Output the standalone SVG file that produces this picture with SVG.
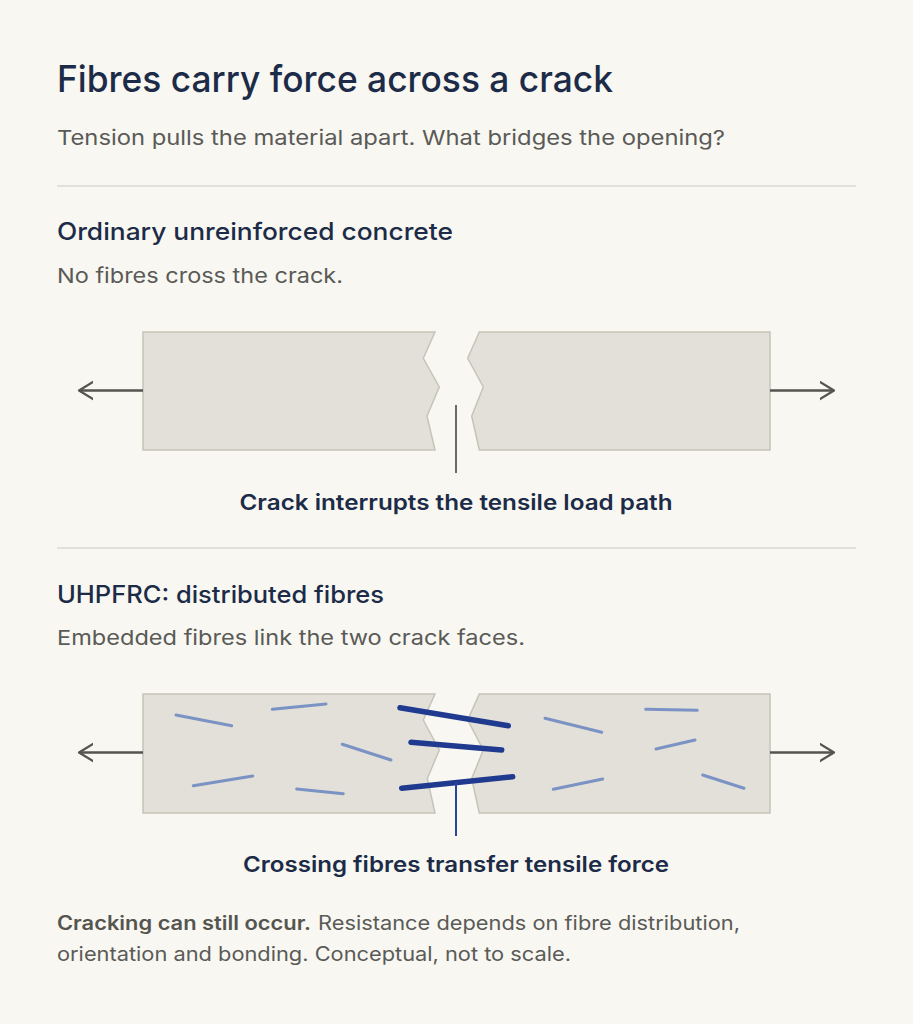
<svg xmlns="http://www.w3.org/2000/svg" width="913" height="1024" viewBox="0 0 913 1024">
  <defs>
    <marker id="ah" viewBox="0 0 20 20" refX="14" refY="10" markerWidth="20" markerHeight="20" markerUnits="userSpaceOnUse" orient="auto">
      <path d="M0,1.5 L14,10 L0,18.5" fill="none" stroke="#55544f" stroke-width="2.2" stroke-linecap="round" stroke-linejoin="round"/>
    </marker>
    <style>
      .title{font-family:Inter,"Liberation Sans",sans-serif;font-size:37px;font-weight:500;fill:#1c2b47}
      .sub{font-family:Inter,"Liberation Sans",sans-serif;font-size:20.5px;font-weight:400;fill:#5a5a57}
      .head{font-family:Inter,"Liberation Sans",sans-serif;font-size:24px;font-weight:500;fill:#1c2b47}
      .lab{font-family:Inter,"Liberation Sans",sans-serif;font-size:21.5px;font-weight:600;fill:#1c2b47}
      .foot{font-family:Inter,"Liberation Sans",sans-serif;font-size:19.5px;font-weight:400;fill:#5a5a57}
      .footb{font-family:Inter,"Liberation Sans",sans-serif;font-size:19.5px;font-weight:600;fill:#55554f}
      .block{fill:#e2e0d8;stroke:#c6c4b8;stroke-width:1.5;stroke-linejoin:miter}
      .div{stroke:#dddbd2;stroke-width:1.5}
      .force{stroke:#55544f;stroke-width:2.5;fill:none}
      .fib{stroke:#7b93c4;stroke-width:3;stroke-linecap:round}
      .bridge{stroke:#1f3a8f;stroke-width:5.5;stroke-linecap:round}
    </style>
  </defs>
  <rect width="913" height="1024" fill="#f8f7f2"/>

  <g id="header">
    <text class="title" x="57" y="92" textLength="556" lengthAdjust="spacingAndGlyphs">Fibres carry force across a crack</text>
    <text class="sub" x="57" y="145" textLength="668" lengthAdjust="spacingAndGlyphs">Tension pulls the material apart. What bridges the opening?</text>
    <line class="div" x1="57" y1="186" x2="856" y2="186"/>
  </g>

  <g id="section-ordinary">
    <text class="head" x="57" y="239.5" textLength="396" lengthAdjust="spacingAndGlyphs">Ordinary unreinforced concrete</text>
    <text class="sub" x="57" y="282.5" textLength="286" lengthAdjust="spacingAndGlyphs">No fibres cross the crack.</text>
  </g>

  <g id="plain-left">
    <path class="block" d="M143,332 L435,332 L423.3,358.3 L439.3,387 L427,416 L435,450 L143,450 Z"/>
  </g>
  <g id="plain-right">
    <path class="block" d="M479.3,332 L770,332 L770,450 L479.3,450 L471.7,416 L483.3,387 L467.7,358.3 Z"/>
  </g>

  <g id="label-ordinary">
    <text class="lab" x="456" y="509.5" text-anchor="middle" textLength="433" lengthAdjust="spacingAndGlyphs">Crack interrupts the tensile load path</text>
  </g>

  <g id="divider-2">
    <line class="div" x1="57" y1="548" x2="856" y2="548"/>
  </g>

  <g id="section-uhpfrc">
    <text class="head" x="57" y="602.5" textLength="327" lengthAdjust="spacingAndGlyphs">UHPFRC: distributed fibres</text>
    <text class="sub" x="57" y="644.5" textLength="468" lengthAdjust="spacingAndGlyphs">Embedded fibres link the two crack faces.</text>
  </g>

  <g id="fibre-left">
    <path class="block" d="M143,694 L435,694 L423.3,720 L439.3,750 L427.3,778.5 L435,813 L143,813 Z"/>
    <line class="fib" x1="176" y1="715" x2="231.7" y2="725.7"/>
    <line class="fib" x1="272.3" y1="709.3" x2="326" y2="704"/>
    <line class="fib" x1="342.3" y1="744.3" x2="391" y2="760"/>
    <line class="fib" x1="193.3" y1="785.7" x2="252.7" y2="776"/>
    <line class="fib" x1="296.7" y1="789" x2="343.3" y2="793.7"/>
  </g>
  <g id="fibre-right">
    <path class="block" d="M479.3,694 L770,694 L770,813 L479.3,813 L471.7,778.5 L483.3,750 L467.7,720 Z"/>
    <line class="fib" x1="545" y1="718.3" x2="601.7" y2="732.3"/>
    <line class="fib" x1="645.7" y1="709.3" x2="697.3" y2="710.3"/>
    <line class="fib" x1="656" y1="749" x2="695" y2="740"/>
    <line class="fib" x1="553.3" y1="789.3" x2="602.7" y2="779"/>
    <line class="fib" x1="702.7" y1="775" x2="744" y2="788.3"/>
  </g>
  <g id="bridging-fibres">
    <line class="bridge" x1="400" y1="707.7" x2="508.3" y2="725.7"/>
    <line class="bridge" x1="411" y1="742.3" x2="501.7" y2="750"/>
    <line class="bridge" x1="401.7" y1="788.3" x2="512.7" y2="776.7"/>
  </g>

  <g id="label-uhpfrc">
    <text class="lab" x="456" y="872" text-anchor="middle" textLength="426" lengthAdjust="spacingAndGlyphs">Crossing fibres transfer tensile force</text>
  </g>

  <g id="connectors">
    <line class="force" x1="143" y1="390.5" x2="79" y2="390.5" marker-end="url(#ah)"/>
    <line class="force" x1="770" y1="390.5" x2="834" y2="390.5" marker-end="url(#ah)"/>
    <line class="force" x1="143" y1="752.5" x2="79" y2="752.5" marker-end="url(#ah)"/>
    <line class="force" x1="770" y1="752.5" x2="834" y2="752.5" marker-end="url(#ah)"/>
    <line x1="456" y1="405" x2="456" y2="473" stroke="#6b6a64" stroke-width="2"/>
    <line x1="456" y1="782" x2="456" y2="836" stroke="#2a4796" stroke-width="2"/>
  </g>

  <g id="footer">
    <text class="footb" x="57" y="929.5" textLength="254" lengthAdjust="spacingAndGlyphs">Cracking can still occur.</text>
    <text class="foot" x="318" y="929.5" textLength="422" lengthAdjust="spacingAndGlyphs">Resistance depends on fibre distribution,</text>
    <text class="foot" x="57" y="961" textLength="514" lengthAdjust="spacingAndGlyphs">orientation and bonding. Conceptual, not to scale.</text>
  </g>
</svg>
